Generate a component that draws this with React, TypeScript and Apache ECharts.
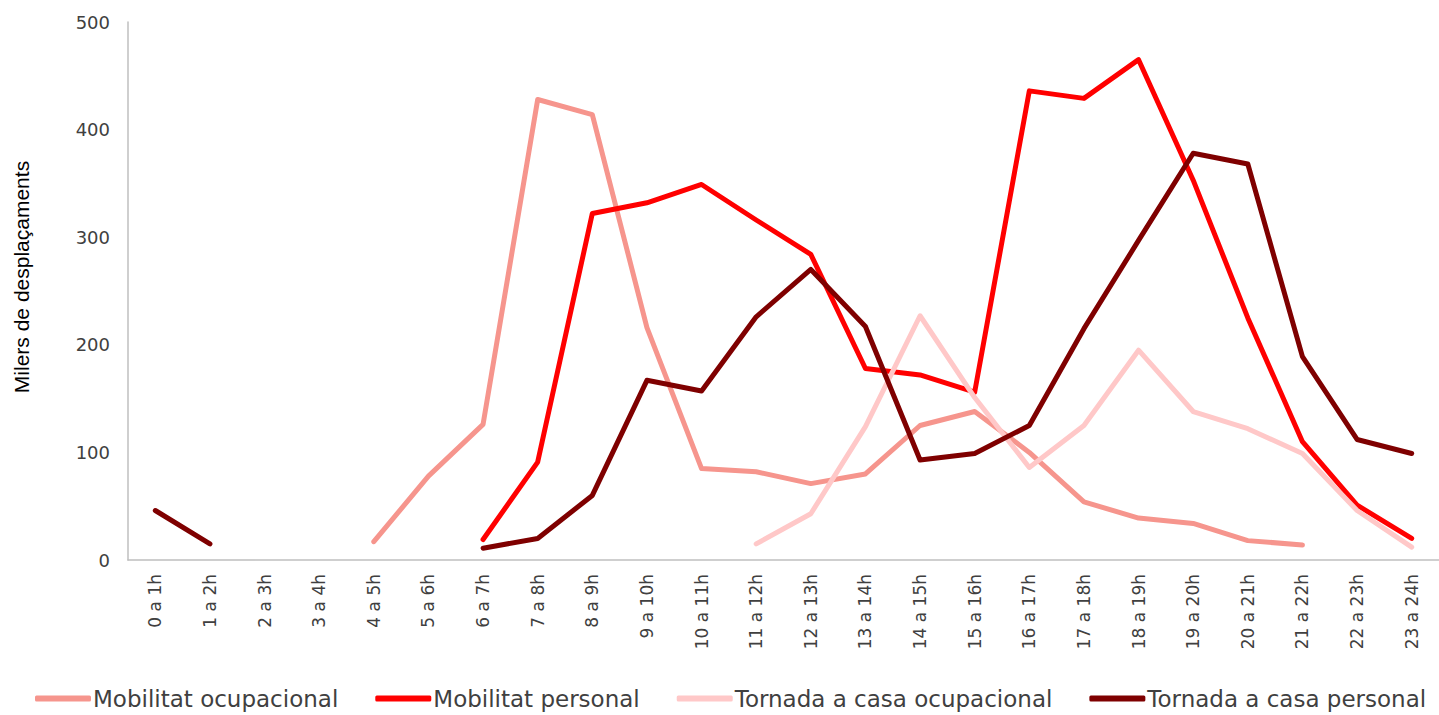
import React, { useEffect, useRef } from "react";
import * as echarts from "echarts";

const hours: string[] = [
  "0 a 1h", "1 a 2h", "2 a 3h", "3 a 4h", "4 a 5h", "5 a 6h", "6 a 7h", "7 a 8h",
  "8 a 9h", "9 a 10h", "10 a 11h", "11 a 12h", "12 a 13h", "13 a 14h", "14 a 15h",
  "15 a 16h", "16 a 17h", "17 a 18h", "18 a 19h", "19 a 20h", "20 a 21h", "21 a 22h",
  "22 a 23h", "23 a 24h",
];

const mobilitatOcupacional: (number | null)[] = [
  null, null, null, null, 17, 78, 126, 428, 414, 216, 85, 82, 71, 80, 125, 138, 100, 54, 39, 34, 18, 14, null, null,
];
const mobilitatPersonal: (number | null)[] = [
  null, null, null, null, null, null, 19, 91, 322, 332, 349, 316, 284, 178, 172, 156, 436, 429, 465, 353, 225, 110, 51, 20,
];
const tornadaOcupacional: (number | null)[] = [
  null, null, null, null, null, null, null, null, null, null, null, 15, 43, 124, 227, 151, 86, 125, 195, 138, 122, 99, 46, 12,
];
const tornadaPersonal: (number | null)[] = [
  46, 15, null, null, null, null, 11, 20, 60, 167, 157, 226, 270, 217, 93, 99, 125, 215, 297, 378, 368, 189, 112, 99,
];

const seriesNames = [
  "Mobilitat ocupacional",
  "Mobilitat personal",
  "Tornada a casa ocupacional",
  "Tornada a casa personal",
];
const seriesColors = ["#F6958D", "#FF0000", "#FFC8C8", "#7F0000"];
const seriesData = [mobilitatOcupacional, mobilitatPersonal, tornadaOcupacional, tornadaPersonal];

const FONT = "'URW Gothic', 'Century Gothic', 'DejaVu Sans', sans-serif";

export default function App() {
  const ref = useRef<HTMLDivElement>(null);

  useEffect(() => {
    if (!ref.current) return;
    const chart = echarts.init(ref.current, undefined, { renderer: "svg" });
    chart.setOption({
      animation: false,
      backgroundColor: "#ffffff",
      grid: { left: 128, right: 0, top: 22, bottom: 155, outerBoundsMode: "none", containLabel: false },
      legend: {
        bottom: 0,
        left: 30,
        itemWidth: 56,
        itemHeight: 6,
        itemGap: 37,
        icon: "roundRect",
        textStyle: { fontFamily: FONT, fontSize: 23, color: "#404040", padding: [0, 0, 0, -3] },
        data: seriesNames.map((n, i) => ({
          name: n,
          itemStyle: { color: seriesColors[i] },
        })),
      },
      xAxis: {
        type: "category",
        data: hours,
        boundaryGap: true,
        axisLine: { lineStyle: { color: "#BFBFBF", width: 1.5 } },
        axisTick: { show: false },
        axisLabel: {
          rotate: 90,
          interval: 0,
          fontFamily: FONT,
          fontSize: 17,
          color: "#404040",
          margin: 14,
        },
      },
      yAxis: {
        type: "value",
        min: 0,
        max: 500,
        interval: 100,
        name: "Milers de desplaçaments",
        nameLocation: "middle",
        nameGap: 96,
        nameTextStyle: {
          fontFamily: "'Liberation Sans', Arial, sans-serif",
          fontSize: 21,
          color: "#000000",
          padding: [0, 0, 0, 28],
        },
        axisLine: { show: true, lineStyle: { color: "#BFBFBF", width: 1.5 } },
        axisTick: { show: false },
        splitLine: { show: false },
        axisLabel: { fontFamily: FONT, fontSize: 18, color: "#404040", margin: 18 },
      },
      series: seriesData.map((d, i) => ({
        name: seriesNames[i],
        type: "line",
        data: d,
        showSymbol: false,
        symbol: "none",
        connectNulls: false,
        itemStyle: { color: seriesColors[i] },
        lineStyle: { color: seriesColors[i], width: 5, cap: "round", join: "round" },
      })),
    });
    return () => chart.dispose();
  }, []);

  return (
    <div
      ref={ref}
      style={{ position: "fixed", left: 0, top: 0, width: 1439, height: 715, background: "#fff" }}
    />
  );
}
